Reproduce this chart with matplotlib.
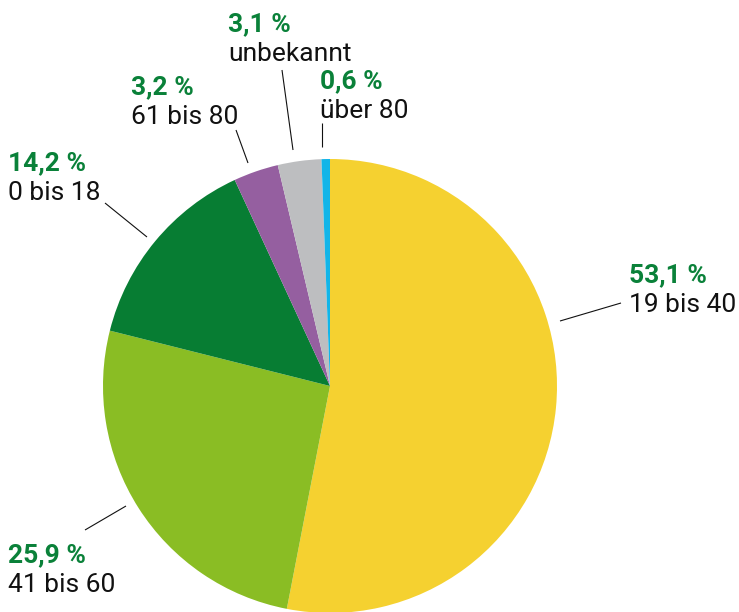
import matplotlib.pyplot as plt

# Altersgruppen, Anteil in Prozent (clockwise from 12 o'clock)
categories = ["19 bis 40", "41 bis 60", "0 bis 18", "61 bis 80", "unbekannt", "über 80"]
shares = [53.1, 25.9, 14.2, 3.2, 3.1, 0.6]
pct_labels = ["53,1 %", "25,9 %", "14,2 %", "3,2 %", "3,1 %", "0,6 %"]
colors = ["#F5D130", "#8ABD24", "#077D33", "#955FA0", "#BDBEC0", "#12B5E8"]

W, H = 739, 612
GREEN = "#0A8139"

fig = plt.figure(figsize=(W / 100, H / 100), dpi=100)
ax = fig.add_axes([0, 0, 1, 1])


def Y(y):
    # pixel row (top-down) -> data y
    return H - y


ax.pie(
    shares,
    colors=colors,
    startangle=90,
    counterclock=False,
    center=(330, Y(386)),
    radius=227,
    wedgeprops=dict(linewidth=0),
)

# label layout: text left x, baseline of percent line (pixels from top)
label_pos = [(629, 282), (8, 562), (8, 170), (131, 94), (228, 31), (320, 88)]
# leader lines (x0, y0, x1, y1) in pixels from top
leaders = [
    (560, 321, 621, 303),
    (85, 530, 126, 506),
    (105, 203, 147, 237),
    (236, 130, 248, 163),
    (282, 70, 293, 150),
    (322, 123, 322, 147),
]

font = ["Roboto", "DejaVu Sans"]
for (x, yb), pct, cat in zip(label_pos, pct_labels, categories):
    ax.text(x, Y(yb), pct, fontsize=19, fontweight="bold", color=GREEN,
            family=font, va="baseline", ha="left")
    ax.text(x, Y(yb + 30), cat, fontsize=19, color="#111111",
            family=font, va="baseline", ha="left")

for x0, y0, x1, y1 in leaders:
    ax.plot([x0, x1], [Y(y0), Y(y1)], color="#111111", linewidth=0.8,
            solid_capstyle="butt")

ax.set_xlim(0, W)
ax.set_ylim(0, H)
ax.set_aspect("equal")
ax.axis("off")

plt.savefig("out.png", dpi=100)
